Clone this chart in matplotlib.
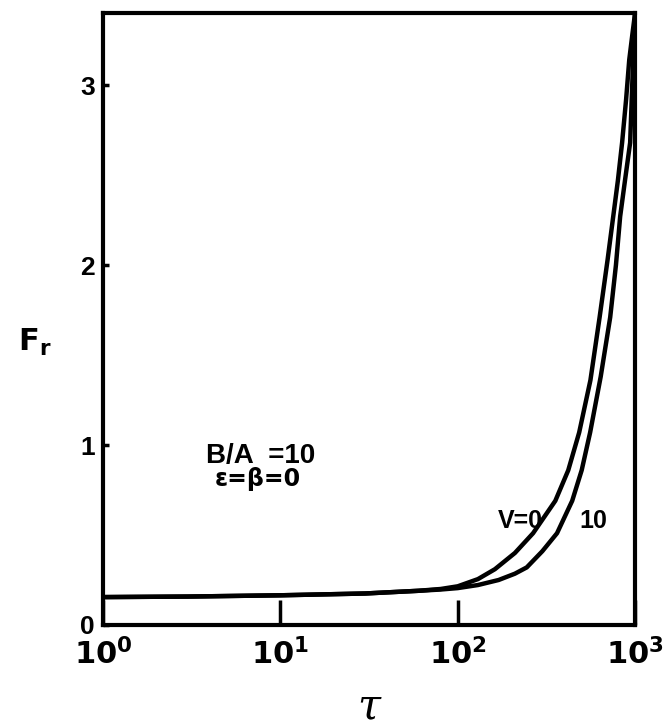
import numpy as np
import matplotlib.pyplot as plt

plt.rcParams['font.family'] = ['Liberation Sans', 'DejaVu Sans']
plt.rcParams['mathtext.default'] = 'bf'

# curve V = 0
tau_v0 = [1, 3, 10, 30, 60, 80, 100, 130, 162, 210, 266, 355, 420, 484, 560, 631,
          700, 753, 800, 845, 890, 927, 965, 1000]
fr_v0 = [0.155, 0.158, 0.165, 0.175, 0.19, 0.2, 0.215, 0.255, 0.31, 0.40, 0.51, 0.69,
         0.86, 1.07, 1.36, 1.71, 2.03, 2.27, 2.47, 2.68, 2.92, 3.14, 3.28, 3.4]

# curve V = 10
tau_v10 = [1, 3, 10, 30, 60, 80, 100, 130, 170, 210, 245, 300, 363, 442, 500, 558, 640,
           724, 780, 824, 880, 938, 975, 1000]
fr_v10 = [0.155, 0.158, 0.165, 0.175, 0.19, 0.197, 0.205, 0.222, 0.25, 0.285, 0.32, 0.41,
          0.51, 0.69, 0.86, 1.07, 1.38, 1.71, 2.0, 2.27, 2.48, 2.68, 3.14, 3.4]

xticks = [1, 10, 100, 1000]
xtick_labels = [r'$10^{0}$', r'$10^{1}$', r'$10^{2}$', r'$10^{3}$']
yticks = [0, 1, 2, 3]


def main() -> None:
    fig = plt.figure(figsize=(6.65, 7.28), dpi=100)
    ax = fig.add_axes([0.155, 0.1415, 0.80, 0.8405])

    ax.plot(tau_v0, fr_v0, color='black', lw=3.2, solid_joinstyle='round')
    ax.plot(tau_v10, fr_v10, color='black', lw=3.2, solid_joinstyle='round')

    ax.set_xscale('log')
    ax.set_xlim(1, 1000)
    ax.set_ylim(0, 3.4)

    ax.set_xticks(xticks)
    ax.set_xticklabels(xtick_labels, fontsize=22)
    ax.xaxis.set_minor_locator(plt.NullLocator())
    ax.set_yticks(yticks)
    ax.set_yticklabels([str(v) for v in yticks], fontsize=19, fontweight='bold')
    ax.tick_params(axis='x', direction='in', length=18, width=2.5, pad=10)
    ax.tick_params(axis='y', direction='in', length=4, width=2.5, pad=6)

    for sp in ax.spines.values():
        sp.set_linewidth(3)

    ax.text(7.7, 0.94, 'B/A  =10', fontsize=20, fontweight='bold',
            ha='center', va='center')
    ax.text(7.5, 0.81, 'ε=β=0', fontsize=17, fontweight='bold',
            ha='center', va='center', family=['DejaVu Sans'])
    ax.text(225, 0.58, 'V=0', fontsize=18, fontweight='bold',
            ha='center', va='center')
    ax.text(580, 0.58, '10', fontsize=18, fontweight='bold',
            ha='center', va='center')

    fig.text(0.052, 0.53, r'$F_r$', fontsize=22, ha='center', va='center')
    fig.text(0.555, 0.03, 'τ', fontsize=30, ha='center', va='center',
             family=['DejaVu Serif'], style='italic')

    fig.savefig('out.png', dpi=100)


if __name__ == '__main__':
    main()
